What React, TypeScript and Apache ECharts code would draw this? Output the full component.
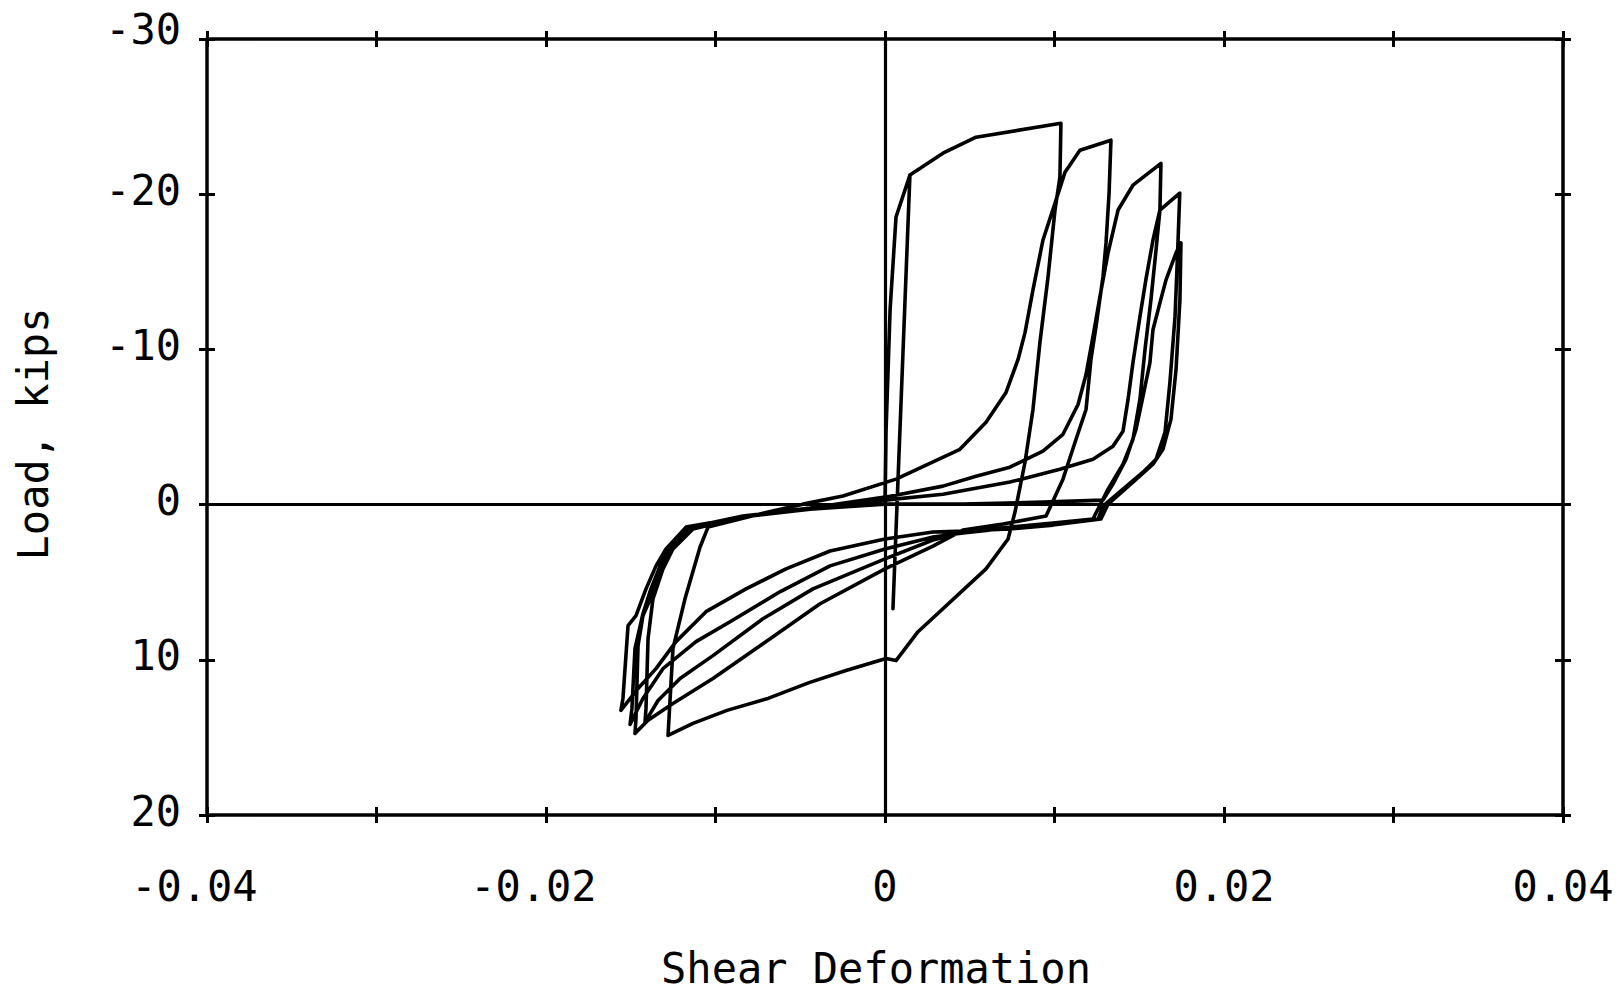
import React, { useEffect, useRef } from "react";
import * as echarts from "echarts";

// Hysteresis path of the test, in [shear deformation, load (kips)] pairs, in loading order
const loadUp1 = [[0,0],[0.00006,-4.66],[0.0003,-12.56],[0.00065,-18.53],[0.00147,-21.23],[0.00047,6.71],[0.00147,-21.23],[0.00342,-22.64],[0.00537,-23.67],[0.01038,-24.57]];
const unload1 = [[0.01032,-21.10],[0.01003,-18.98],[0.00962,-14.68],[0.00914,-10.44],[0.00873,-6.13],[0.00826,-2.73],[0.00767,0.48],[0.00726,2.22],[0.00596,4.14],[0.00195,8.19],[0.00065,10.05],[0.00006,9.92],[-0.0023,10.69],[-0.00448,11.47],[-0.0069,12.49],[-0.00932,13.26],[-0.01133,14.10],[-0.0128,14.87]];
const reload2 = [[-0.01251,9.28],[-0.0118,6.07],[-0.01091,2.73],[-0.01044,1.45],[-0.0072,0.55],[-0.00484,-0.03],[-0.00248,-0.55],[0.00065,-1.64],[0.00442,-3.56],[0.00596,-5.30],[0.00714,-7.23],[0.00785,-9.35],[0.00826,-11.08],[0.00873,-13.84],[0.00932,-17.05],[0.01009,-19.62],[0.01062,-21.42],[0.0115,-22.83],[0.01333,-23.48]];
const unload2 = [[0.01322,-20.07],[0.01304,-16.86],[0.01286,-14.68],[0.01245,-11.47],[0.01215,-9.35],[0.01186,-6.13],[0.01127,-4.21],[0.0105,-1.64],[0.0095,0.74],[0.00696,1.25],[0.0046,1.64],[0.00283,2.67],[0,4.14],[-0.00383,6.39],[-0.0072,8.96],[-0.01015,11.21],[-0.01251,12.81],[-0.01398,13.9],[-0.01475,14.74]];
const reload3 = [[-0.01469,13.78],[-0.01457,9.09],[-0.01428,7.16],[-0.01351,5.23],[-0.0128,3.05],[-0.01145,1.45],[-0.00838,0.74],[-0.00442,0.22],[0,-0.48],[0.00342,-1.19],[0.00537,-1.83],[0.00737,-2.41],[0.00932,-3.44],[0.0105,-4.53],[0.01139,-6.45],[0.01186,-8.38],[0.01227,-10.82],[0.01268,-13.39],[0.01316,-16.22],[0.01375,-18.98],[0.01463,-20.58],[0.01628,-21.99]];
const unload3 = [[0.01622,-18.98],[0.01599,-16.41],[0.01569,-13.2],[0.01534,-9.99],[0.01504,-6.78],[0.01463,-4.21],[0.01404,-2.6],[0.01316,-1.0],[0.01227,0.93],[0.00991,1.19],[0.00737,1.45],[0.0046,1.77],[0.00283,2.28],[0,3.5],[-0.00425,5.43],[-0.0072,7.35],[-0.01015,9.73],[-0.01209,11.21],[-0.01339,12.62],[-0.01416,14.03]];
const reload4 = [[-0.0141,13.13],[-0.01398,8.64],[-0.01369,6.07],[-0.0131,4.14],[-0.01251,2.86],[-0.01133,1.57],[-0.00838,0.8],[-0.00442,0.29],[0,-0.29],[0.00342,-0.67],[0.00737,-1.45],[0.01032,-2.28],[0.01227,-2.92],[0.01345,-3.76],[0.01404,-4.72],[0.01434,-6.78],[0.01463,-9.15],[0.01504,-12.11],[0.01539,-14.48],[0.01581,-17.05],[0.01622,-18.98],[0.01739,-20.07]];
const unload4 = [[0.01727,-16.41],[0.01711,-12.11],[0.01681,-7.87],[0.01652,-4.66],[0.01599,-2.92],[0.01522,-2.09],[0.01404,-1.0],[0.01286,0.1],[0.01257,0.93],[0.00991,1.25],[0.00737,1.51],[0.0046,1.83],[0.00283,2.09],[0,2.86],[-0.00324,3.95],[-0.0062,5.62],[-0.00914,7.55],[-0.01115,8.83],[-0.0131,10.57],[-0.01428,12.49],[-0.01504,14.16]];
const reload5 = [[-0.01493,13.13],[-0.01475,9.28],[-0.01428,7.03],[-0.01381,5.43],[-0.0131,3.5],[-0.01162,1.57],[-0.00838,0.8],[-0.00442,0.29],[0,-0.03],[0.0046,-0.03],[0.00932,-0.16],[0.01286,-0.29],[0.01345,-1.32],[0.01422,-2.92],[0.01481,-4.85],[0.01522,-6.97],[0.01563,-9.15],[0.01581,-11.27],[0.01622,-13.0],[0.01658,-14.48],[0.01717,-16.22],[0.01746,-16.86]];
const unload5 = [[0.0174,-13.2],[0.01717,-8.7],[0.01687,-5.49],[0.0164,-3.56],[0.01581,-2.6],[0.01463,-1.45],[0.01316,-0.03],[0.01274,0.93],[0.00991,1.32],[0.00737,1.57],[0.0046,1.7],[0.00283,1.77],[0,2.22],[-0.00324,2.99],[-0.00584,4.14],[-0.0082,5.43],[-0.01056,6.9],[-0.01233,8.83],[-0.01351,10.57],[-0.01457,11.85],[-0.01558,13.26]];
const reloadEnd = [[-0.01546,12.49],[-0.01516,7.8],[-0.01469,7.16],[-0.0141,5.43],[-0.01351,3.95],[-0.01292,2.86],[-0.01174,1.45],[-0.00838,0.8],[-0.00442,0.29],[0,-0.03]];

// Axis ranges / ticks
const xRange = { min: -0.04, max: 0.04, interval: 0.01 };
const yRange = { min: -30, max: 20, interval: 10 };
const xTitle = "Shear Deformation";
const yTitle = "Load, kips";

const FONT = "DejaVu Sans Mono";

export default function App() {
  const ref = useRef<HTMLDivElement>(null);
  useEffect(() => {
    if (!ref.current) return;
    const chart = echarts.init(ref.current, null, { renderer: "svg" });
    const path = [
      ...loadUp1, ...unload1, ...reload2, ...unload2, ...reload3, ...unload3,
      ...reload4, ...unload4, ...reload5, ...unload5, ...reloadEnd,
    ];
    const lineW = 3.5;
    const tickLen = 8;
    const txt = { fontFamily: FONT, fontSize: 42, fontWeight: "normal" as const, color: "#000" };
    const xFmt = (v: number) => {
      const k = Math.round(v * 100);
      if (k % 2 !== 0) return "";
      if (k === 0) return "0";
      const s = (k / 100).toFixed(2);
      return k < 0 ? s + "\u00a0" : s;
    };
    const yFmt = (v: number) => (v === yRange.min ? "{t|" + v + "}" : String(v));
    const baseX = (pos: string, inside: boolean, main: boolean) => ({
      type: "value",
      position: pos,
      ...xRange,
      axisLine: { show: main, onZero: false, lineStyle: { color: "#000", width: lineW } },
      axisTick: { show: true, inside, length: tickLen, lineStyle: { color: "#000", width: 3 } },
      axisLabel: { show: false },
      splitLine: { show: false },
    });
    const baseY = (pos: string, inside: boolean, main: boolean) => ({
      type: "value",
      position: pos,
      inverse: true,
      ...yRange,
      axisLine: { show: main, onZero: false, lineStyle: { color: "#000", width: lineW } },
      axisTick: { show: true, inside, length: tickLen, lineStyle: { color: "#000", width: 3 } },
      axisLabel: { show: false },
      splitLine: { show: false },
    });
    const xAxes: any[] = [
      {
        ...baseX("bottom", true, true),
        axisLabel: { show: true, formatter: xFmt, ...txt, margin: 50 },
        name: xTitle,
        nameLocation: "middle",
        nameGap: 132,
        nameTextStyle: { ...txt, padding: [0, 18, 0, 0] },
      },
      baseX("bottom", false, false),
      baseX("top", true, true),
      baseX("top", false, false),
    ];
    const yAxes: any[] = [
      {
        ...baseY("left", true, true),
        axisLabel: {
          show: true,
          formatter: yFmt,
          ...txt,
          margin: 26,
          padding: [0, 0, 8, 0],
          rich: { t: { ...txt, padding: [0, 0, 12, 0] } },
        },
        name: yTitle,
        nameLocation: "middle",
        nameGap: 153,
        nameRotate: 90,
        nameTextStyle: { ...txt, padding: [0, 14, 0, 0] },
      },
      baseY("left", false, false),
      baseY("right", true, true),
      baseY("right", false, false),
    ];
    chart.setOption({
      animation: false,
      backgroundColor: "#fff",
      grid: { left: 207, right: 58, top: 39, bottom: 176, containLabel: false },
      xAxis: xAxes,
      yAxis: yAxes,
      series: [
        {
          type: "line",
          xAxisIndex: 0,
          yAxisIndex: 0,
          data: path,
          symbol: "none",
          showSymbol: false,
          lineStyle: { color: "#000", width: 3.6, join: "round" },
          z: 3,
          markLine: {
            silent: true,
            symbol: "none",
            label: { show: false },
            lineStyle: { color: "#000", width: 3.2, type: "solid" },
            data: [{ xAxis: 0 }, { yAxis: 0 }],
          },
        },
      ],
    });
    return () => chart.dispose();
  }, []);
  return (
    <div
      ref={ref}
      style={{ position: "fixed", left: 0, top: 0, width: 1621, height: 994, background: "#fff" }}
    />
  );
}
